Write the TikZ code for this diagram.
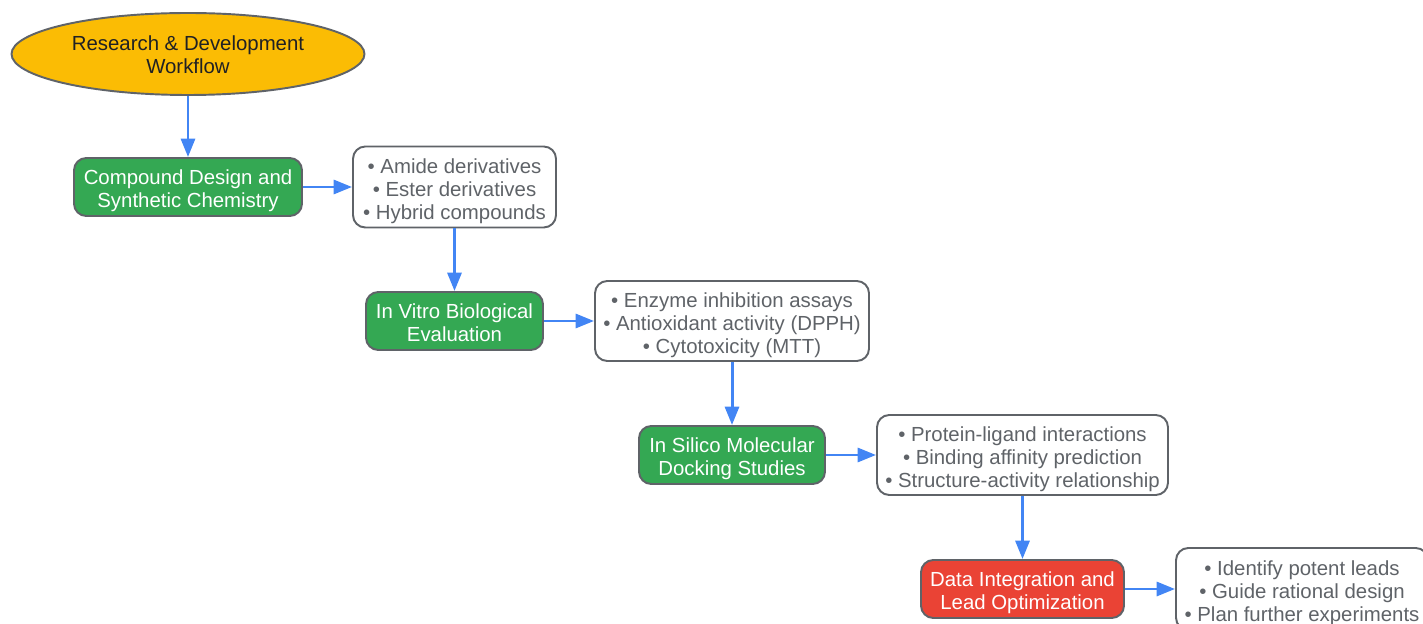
\documentclass[tikz,border=0pt]{standalone}
\usepackage{fontspec}
\setmainfont{Liberation Sans}
\usetikzlibrary{shapes.geometric,arrows.meta}
\definecolor{rdyellow}{HTML}{FBBC04}
\definecolor{rdgreen}{HTML}{34A853}
\definecolor{rdred}{HTML}{EA4335}
\definecolor{rdblue}{HTML}{4285F4}
\definecolor{rdgray}{HTML}{5F6368}
\definecolor{rdink}{HTML}{202124}

\begin{document}
\begin{tikzpicture}[x=0.02cm,y=-0.02cm,
	every node/.style={font=\fontsize{11.6}{13.1}\selectfont, align=center, inner sep=0pt, text depth=0pt},
	stage/.style={draw=rdgray, line width=1.1pt, rounded corners=7pt, text=white, text height=23.6pt},
	notes/.style={draw=rdgray, line width=1.1pt, rounded corners=7pt, fill=white, text=rdgray, text height=36.7pt},
	flow/.style={-{Triangle[length=10.5pt,width=8pt]}, rdblue, line width=1.7pt}]
		%%Location
		\useasboundingbox (0,0) rectangle (1423,624);
		%%Title
		\node[ellipse, draw=rdgray, line width=1.1pt, fill=rdyellow, text=rdink, text height=22.6pt,
			minimum width=353*0.02cm, minimum height=82*0.02cm] (title) at (188,54)
			{Research \& Development\\Workflow};
		%%Stages
		\node[stage, fill=rdgreen, minimum width=228*0.02cm, minimum height=58*0.02cm] (design) at (188,187)
			{Compound Design and\\Synthetic Chemistry};
		\node[stage, fill=rdgreen, minimum width=177*0.02cm, minimum height=58*0.02cm] (vitro) at (454.5,321)
			{In Vitro Biological\\Evaluation};
		\node[stage, fill=rdgreen, minimum width=186*0.02cm, minimum height=58*0.02cm] (silico) at (732,455)
			{In Silico Molecular\\Docking Studies};
		\node[stage, fill=rdred, minimum width=203*0.02cm, minimum height=58*0.02cm] (lead) at (1022.5,589)
			{Data Integration and\\Lead Optimization};
		%%Details
		\node[notes, minimum width=203*0.02cm, minimum height=81*0.02cm] (designnotes) at (454.5,187)
			{\textbullet\ Amide derivatives\\\textbullet\ Ester derivatives\\\textbullet\ Hybrid compounds};
		\node[notes, minimum width=274*0.02cm, minimum height=80*0.02cm] (vitronotes) at (732,321)
			{\textbullet\ Enzyme inhibition assays\\\textbullet\ Antioxidant activity (DPPH)\\\textbullet\ Cytotoxicity (MTT)};
		\node[notes, minimum width=291*0.02cm, minimum height=80*0.02cm] (siliconotes) at (1022.5,455)
			{\textbullet\ Protein-ligand interactions\\\textbullet\ Binding affinity prediction\\\textbullet\ Structure-activity relationship};
		\node[notes, minimum width=252*0.02cm, minimum height=82*0.02cm] (leadnotes) at (1302,589)
			{\textbullet\ Identify potent leads\\\textbullet\ Guide rational design\\\textbullet\ Plan further experiments};
		%%Arrows
		\draw[flow] (title) -- (design);
		\draw[flow] (design) -- (designnotes);
		\draw[flow] (designnotes) -- (vitro);
		\draw[flow] (vitro) -- (vitronotes);
		\draw[flow] (vitronotes) -- (silico);
		\draw[flow] (silico) -- (siliconotes);
		\draw[flow] (siliconotes) -- (lead);
		\draw[flow] (lead) -- (leadnotes);
\end{tikzpicture}
\end{document}
